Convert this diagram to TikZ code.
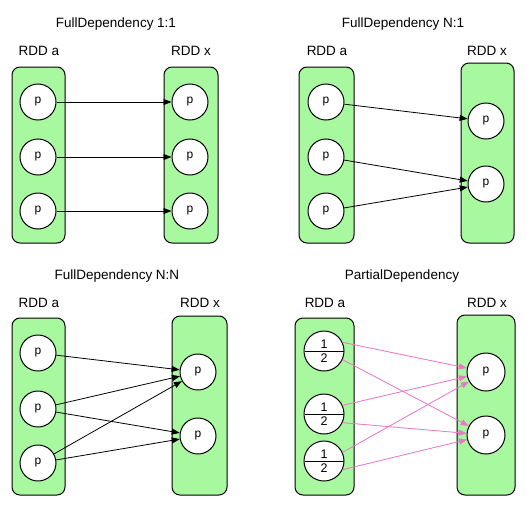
\documentclass[tikz,border=0pt]{standalone}
\usepackage{fontspec}
\setmainfont{Liberation Sans}
\usetikzlibrary{arrows.meta,shapes.multipart}
\definecolor{rddgreen}{RGB}{168,248,160}
\definecolor{deppink}{RGB}{232,120,200}
\begin{document}
\begin{tikzpicture}[
  x=1pt, y=-1pt,
  every node/.style={font=\fontsize{13.5}{16}\selectfont},
  rdd/.style={draw, line width=1pt, rounded corners=8pt, fill=rddgreen, inner sep=0pt},
  part/.style={draw, circle, line width=1pt, fill=white, minimum size=36pt, inner sep=0pt, font=\fontsize{12}{14}\selectfont},
  split/.style={draw, circle split, line width=1pt, fill=white, minimum size=40pt, inner xsep=1pt, inner ysep=2.5pt, font=\fontsize{12.5}{13}\selectfont},
  dep/.style={-{Triangle[length=8pt,width=6pt]}, line width=0.8pt},
  pdep/.style={dep, draw=deppink, fill=deppink}
]
  \useasboundingbox (0,0) rectangle (527,506);

  \node (titleA) at (116,24) {FullDependency 1:1};
  \node (lblAa) at (39,51) {RDD a};
  \node (lblAx) at (191,51) {RDD x};
  \node[rdd, minimum width=53pt, minimum height=176pt] (rddAa) at (38.5,155) {};
  \node[rdd, minimum width=54pt, minimum height=176pt] (rddAx) at (191,155) {};
  \node[part] (a1) at (38,102) {p};
  \node[part] (a2) at (38,157) {p};
  \node[part] (a3) at (38,211) {p};
  \node[part] (x1) at (190,102) {p};
  \node[part] (x2) at (190,157) {p};
  \node[part] (x3) at (190,211) {p};
  \draw[dep] (a1) -- (x1);
  \draw[dep] (a2) -- (x2);
  \draw[dep] (a3) -- (x3);

  \node (titleB) at (403,24) {FullDependency N:1};
  \node (lblBa) at (327,51) {RDD a};
  \node (lblBx) at (487,51) {RDD x};
  \node[rdd, minimum width=55pt, minimum height=176pt] (rddBa) at (326.5,155) {};
  \node[rdd, minimum width=53pt, minimum height=180pt] (rddBx) at (487.5,153) {};
  \node[part] (b1) at (326,102) {p};
  \node[part] (b2) at (326,157) {p};
  \node[part] (b3) at (326,211) {p};
  \node[part] (y1) at (486,121) {p};
  \node[part] (y2) at (486,184) {p};
  \draw[dep] (b1) -- (y1);
  \draw[dep] (b2) -- (y2);
  \draw[dep] (b3) -- (y2);

  \node (titleC) at (117,276) {FullDependency N:N};
  \node (lblCa) at (39,303) {RDD a};
  \node (lblCx) at (200,303) {RDD x};
  \node[rdd, minimum width=53pt, minimum height=177pt] (rddCa) at (38.5,406.5) {};
  \node[rdd, minimum width=55pt, minimum height=179pt] (rddCx) at (199.5,405.5) {};
  \node[part] (c1) at (38,353) {p};
  \node[part] (c2) at (38,409) {p};
  \node[part] (c3) at (38,463) {p};
  \node[part] (z1) at (198,372) {p};
  \node[part] (z2) at (198,436) {p};
  \draw[dep] (c1) -- (z1);
  \draw[dep] (c2) -- (z1);
  \draw[dep] (c2) -- (z2);
  \draw[dep] (c3) -- (z1);
  \draw[dep] (c3) -- (z2);

  \node (titleD) at (402,276) {PartialDependency};
  \node (lblDa) at (325,303) {RDD a};
  \node (lblDx) at (487,303) {RDD x};
  \node[rdd, minimum width=59pt, minimum height=177pt] (rddDa) at (324.5,406.5) {};
  \node[rdd, minimum width=58pt, minimum height=180pt] (rddDx) at (486,405) {};
  \node[split] (d1) at (324,351) {1 \nodepart{lower} 2};
  \node[split] (d2) at (324,414) {1 \nodepart{lower} 2};
  \node[split] (d3) at (324,461) {1 \nodepart{lower} 2};
  \node[part, minimum size=38pt] (w1) at (486,372) {p};
  \node[part, minimum size=38pt] (w2) at (486,435) {p};
  \draw[pdep] (d1.25) -- (w1);
  \draw[pdep] (d1.-25) -- (w2);
  \draw[pdep] (d2.25) -- (w1);
  \draw[pdep] (d2.-25) -- (w2);
  \draw[pdep] (d3.25) -- (w1);
  \draw[pdep] (d3.-25) -- (w2);
\end{tikzpicture}
\end{document}
